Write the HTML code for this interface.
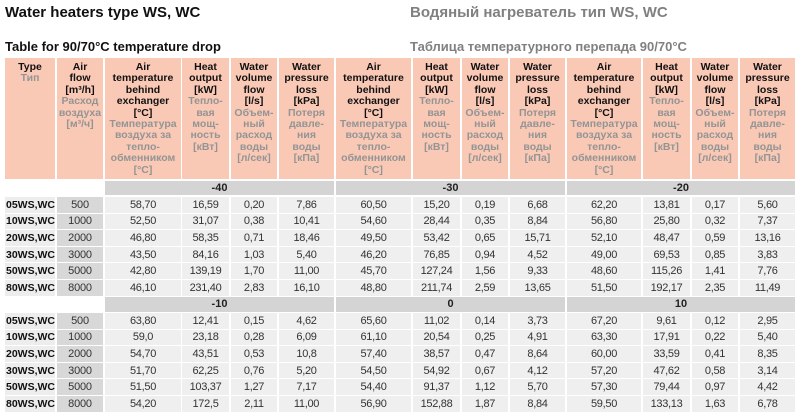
<!DOCTYPE html>
<html><head><meta charset="utf-8"><style>
*{margin:0;padding:0;box-sizing:border-box}
body{width:800px;height:416px;background:#fff;position:relative;overflow:hidden;font-family:"Liberation Sans",Arial,sans-serif;color:#222}
.t{position:absolute;white-space:nowrap;font-weight:bold}
.c{position:absolute;display:flex;align-items:center;justify-content:center;white-space:nowrap}
.h{position:absolute;top:58px;height:121px;background:#f9c9b6;text-align:center;padding-top:4px;font-size:10.5px;line-height:11.4px;font-weight:bold;color:#111;white-space:nowrap}
.h span{color:#949494}
.b{position:absolute;background:#d4d4d4;font-weight:bold;font-size:11px;display:flex;align-items:center;justify-content:center;color:#222}
.d{background:#efefef;font-size:11px;letter-spacing:-0.3px;color:#333;height:15.6px}
.tp{background:#ededed;font-size:10.5px;font-weight:bold;color:#111;justify-content:flex-start;padding-left:1px;height:15.6px}
.af{background:#d8d8d8;font-size:11px;color:#333;height:15.6px;letter-spacing:-0.2px}
.x1{left:5px;width:50px}.x2{left:57px;width:46px}.x3{left:105px;width:76px}.x4{left:182px;width:47px}
.x5{left:231px;width:46px}.x6{left:279px;width:55px}.x7{left:336px;width:75px}.x8{left:413px;width:47px}
.x9{left:462px;width:46px}.x10{left:510px;width:55px}.x11{left:567px;width:74px}.x12{left:643px;width:47px}
.x13{left:692px;width:46px}.x14{left:740px;width:55px}
.r1{top:197px}.r2{top:213.6px}.r3{top:230.2px}.r4{top:246.8px}.r5{top:263.4px}.r6{top:280px}
.s1{top:313px}.s2{top:329.6px}.s3{top:346.2px}.s4{top:362.8px}.s5{top:379.4px}.s6{top:396px}
</style></head><body>
<div class="t" style="left:5px;top:4px;font-size:15px;color:#111">Water heaters type WS, WC</div>
<div class="t" style="left:410px;top:4px;font-size:15px;color:#808080">Водяный нагреватель тип WS, WC</div>
<div class="t" style="left:5px;top:39px;font-size:13px;color:#111">Table for 90/70°C temperature drop</div>
<div class="t" style="left:410px;top:39px;font-size:13px;color:#808080">Таблица температурного перепада 90/70°C</div>

<div class="h x1">Type<br><span>Тип</span></div>
<div class="h x2">Air<br>flow<br>[m³/h]<br><span>Расход<br>воздуха<br>[м³/ч]</span></div>
<div class="h x3">Air<br>temperature<br>behind<br>exchanger<br>[°C]<br><span>Температура<br>воздуха за<br>тепло-<br>обменником<br>[°C]</span></div>
<div class="h x4">Heat<br>output<br>[kW]<br><span>Тепло-<br>вая<br>мощ-<br>ность<br>[кВт]</span></div>
<div class="h x5">Water<br>volume<br>flow<br>[l/s]<br><span>Объем-<br>ный<br>расход<br>воды<br>[л/сек]</span></div>
<div class="h x6">Water<br>pressure<br>loss<br>[kPa]<br><span>Потеря<br>давле-<br>ния<br>воды<br>[кПа]</span></div>
<div class="h x7">Air<br>temperature<br>behind<br>exchanger<br>[°C]<br><span>Температура<br>воздуха за<br>тепло-<br>обменником<br>[°C]</span></div>
<div class="h x8">Heat<br>output<br>[kW]<br><span>Тепло-<br>вая<br>мощ-<br>ность<br>[кВт]</span></div>
<div class="h x9">Water<br>volume<br>flow<br>[l/s]<br><span>Объем-<br>ный<br>расход<br>воды<br>[л/сек]</span></div>
<div class="h x10">Water<br>pressure<br>loss<br>[kPa]<br><span>Потеря<br>давле-<br>ния<br>воды<br>[кПа]</span></div>
<div class="h x11">Air<br>temperature<br>behind<br>exchanger<br>[°C]<br><span>Температура<br>воздуха за<br>тепло-<br>обменником<br>[°C]</span></div>
<div class="h x12">Heat<br>output<br>[kW]<br><span>Тепло-<br>вая<br>мощ-<br>ность<br>[кВт]</span></div>
<div class="h x13">Water<br>volume<br>flow<br>[l/s]<br><span>Объем-<br>ный<br>расход<br>воды<br>[л/сек]</span></div>
<div class="h x14">Water<br>pressure<br>loss<br>[kPa]<br><span>Потеря<br>давле-<br>ния<br>воды<br>[кПа]</span></div>

<div class="b" style="left:105px;width:229px;top:181px;height:14px">-40</div>
<div class="b" style="left:336px;width:229px;top:181px;height:14px">-30</div>
<div class="b" style="left:567px;width:228px;top:181px;height:14px">-20</div>

<div class="c tp x1 r1">05WS,WC</div><div class="c af x2 r1">500</div>
<div class="c d x3 r1">58,70</div><div class="c d x4 r1">16,59</div><div class="c d x5 r1">0,20</div><div class="c d x6 r1">7,86</div>
<div class="c d x7 r1">60,50</div><div class="c d x8 r1">15,20</div><div class="c d x9 r1">0,19</div><div class="c d x10 r1">6,68</div>
<div class="c d x11 r1">62,20</div><div class="c d x12 r1">13,81</div><div class="c d x13 r1">0,17</div><div class="c d x14 r1">5,60</div>

<div class="c tp x1 r2">10WS,WC</div><div class="c af x2 r2">1000</div>
<div class="c d x3 r2">52,50</div><div class="c d x4 r2">31,07</div><div class="c d x5 r2">0,38</div><div class="c d x6 r2">10,41</div>
<div class="c d x7 r2">54,60</div><div class="c d x8 r2">28,44</div><div class="c d x9 r2">0,35</div><div class="c d x10 r2">8,84</div>
<div class="c d x11 r2">56,80</div><div class="c d x12 r2">25,80</div><div class="c d x13 r2">0,32</div><div class="c d x14 r2">7,37</div>

<div class="c tp x1 r3">20WS,WC</div><div class="c af x2 r3">2000</div>
<div class="c d x3 r3">46,80</div><div class="c d x4 r3">58,35</div><div class="c d x5 r3">0,71</div><div class="c d x6 r3">18,46</div>
<div class="c d x7 r3">49,50</div><div class="c d x8 r3">53,42</div><div class="c d x9 r3">0,65</div><div class="c d x10 r3">15,71</div>
<div class="c d x11 r3">52,10</div><div class="c d x12 r3">48,47</div><div class="c d x13 r3">0,59</div><div class="c d x14 r3">13,16</div>

<div class="c tp x1 r4">30WS,WC</div><div class="c af x2 r4">3000</div>
<div class="c d x3 r4">43,50</div><div class="c d x4 r4">84,16</div><div class="c d x5 r4">1,03</div><div class="c d x6 r4">5,40</div>
<div class="c d x7 r4">46,20</div><div class="c d x8 r4">76,85</div><div class="c d x9 r4">0,94</div><div class="c d x10 r4">4,52</div>
<div class="c d x11 r4">49,00</div><div class="c d x12 r4">69,53</div><div class="c d x13 r4">0,85</div><div class="c d x14 r4">3,83</div>

<div class="c tp x1 r5">50WS,WC</div><div class="c af x2 r5">5000</div>
<div class="c d x3 r5">42,80</div><div class="c d x4 r5">139,19</div><div class="c d x5 r5">1,70</div><div class="c d x6 r5">11,00</div>
<div class="c d x7 r5">45,70</div><div class="c d x8 r5">127,24</div><div class="c d x9 r5">1,56</div><div class="c d x10 r5">9,33</div>
<div class="c d x11 r5">48,60</div><div class="c d x12 r5">115,26</div><div class="c d x13 r5">1,41</div><div class="c d x14 r5">7,76</div>

<div class="c tp x1 r6">80WS,WC</div><div class="c af x2 r6">8000</div>
<div class="c d x3 r6">46,10</div><div class="c d x4 r6">231,40</div><div class="c d x5 r6">2,83</div><div class="c d x6 r6">16,10</div>
<div class="c d x7 r6">48,80</div><div class="c d x8 r6">211,74</div><div class="c d x9 r6">2,59</div><div class="c d x10 r6">13,65</div>
<div class="c d x11 r6">51,50</div><div class="c d x12 r6">192,17</div><div class="c d x13 r6">2,35</div><div class="c d x14 r6">11,49</div>

<div class="b" style="left:105px;width:229px;top:297px;height:14.5px">-10</div>
<div class="b" style="left:336px;width:229px;top:297px;height:14.5px">0</div>
<div class="b" style="left:567px;width:228px;top:297px;height:14.5px">10</div>

<div class="c tp x1 s1">05WS,WC</div><div class="c af x2 s1">500</div>
<div class="c d x3 s1">63,80</div><div class="c d x4 s1">12,41</div><div class="c d x5 s1">0,15</div><div class="c d x6 s1">4,62</div>
<div class="c d x7 s1">65,60</div><div class="c d x8 s1">11,02</div><div class="c d x9 s1">0,14</div><div class="c d x10 s1">3,73</div>
<div class="c d x11 s1">67,20</div><div class="c d x12 s1">9,61</div><div class="c d x13 s1">0,12</div><div class="c d x14 s1">2,95</div>

<div class="c tp x1 s2">10WS,WC</div><div class="c af x2 s2">1000</div>
<div class="c d x3 s2">59,0</div><div class="c d x4 s2">23,18</div><div class="c d x5 s2">0,28</div><div class="c d x6 s2">6,09</div>
<div class="c d x7 s2">61,10</div><div class="c d x8 s2">20,54</div><div class="c d x9 s2">0,25</div><div class="c d x10 s2">4,91</div>
<div class="c d x11 s2">63,30</div><div class="c d x12 s2">17,91</div><div class="c d x13 s2">0,22</div><div class="c d x14 s2">5,40</div>

<div class="c tp x1 s3">20WS,WC</div><div class="c af x2 s3">2000</div>
<div class="c d x3 s3">54,70</div><div class="c d x4 s3">43,51</div><div class="c d x5 s3">0,53</div><div class="c d x6 s3">10,8</div>
<div class="c d x7 s3">57,40</div><div class="c d x8 s3">38,57</div><div class="c d x9 s3">0,47</div><div class="c d x10 s3">8,64</div>
<div class="c d x11 s3">60,00</div><div class="c d x12 s3">33,59</div><div class="c d x13 s3">0,41</div><div class="c d x14 s3">8,35</div>

<div class="c tp x1 s4">30WS,WC</div><div class="c af x2 s4">3000</div>
<div class="c d x3 s4">51,70</div><div class="c d x4 s4">62,25</div><div class="c d x5 s4">0,76</div><div class="c d x6 s4">5,20</div>
<div class="c d x7 s4">54,50</div><div class="c d x8 s4">54,92</div><div class="c d x9 s4">0,67</div><div class="c d x10 s4">4,12</div>
<div class="c d x11 s4">57,20</div><div class="c d x12 s4">47,62</div><div class="c d x13 s4">0,58</div><div class="c d x14 s4">3,14</div>

<div class="c tp x1 s5">50WS,WC</div><div class="c af x2 s5">5000</div>
<div class="c d x3 s5">51,50</div><div class="c d x4 s5">103,37</div><div class="c d x5 s5">1,27</div><div class="c d x6 s5">7,17</div>
<div class="c d x7 s5">54,40</div><div class="c d x8 s5">91,37</div><div class="c d x9 s5">1,12</div><div class="c d x10 s5">5,70</div>
<div class="c d x11 s5">57,30</div><div class="c d x12 s5">79,44</div><div class="c d x13 s5">0,97</div><div class="c d x14 s5">4,42</div>

<div class="c tp x1 s6">80WS,WC</div><div class="c af x2 s6">8000</div>
<div class="c d x3 s6">54,20</div><div class="c d x4 s6">172,5</div><div class="c d x5 s6">2,11</div><div class="c d x6 s6">11,00</div>
<div class="c d x7 s6">56,90</div><div class="c d x8 s6">152,88</div><div class="c d x9 s6">1,87</div><div class="c d x10 s6">8,84</div>
<div class="c d x11 s6">59,50</div><div class="c d x12 s6">133,13</div><div class="c d x13 s6">1,63</div><div class="c d x14 s6">6,78</div>
</body></html>
